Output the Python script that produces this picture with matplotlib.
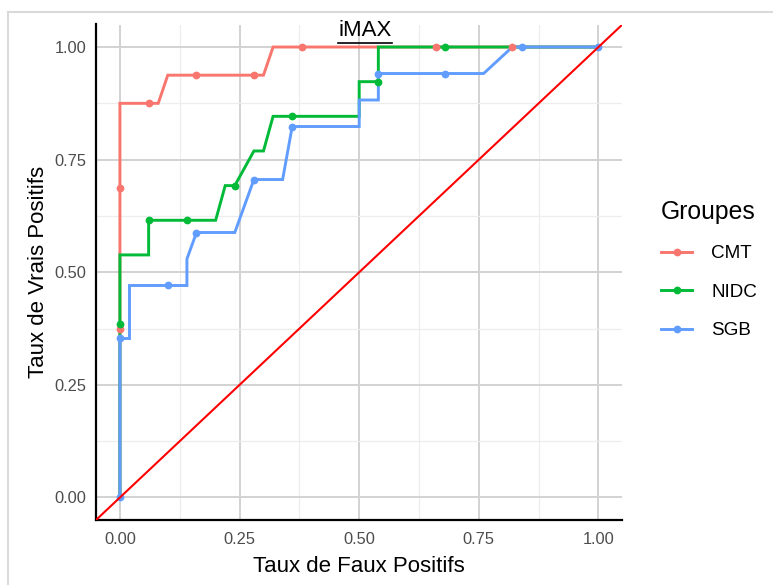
import matplotlib
matplotlib.use("Agg")
import matplotlib.pyplot as plt
from matplotlib.lines import Line2D
from matplotlib.ticker import MultipleLocator

plt.rcParams['font.family'] = ['Liberation Sans', 'DejaVu Sans']

# ROC curves (false positive rate, true positive rate)
groups = ["CMT", "NIDC", "SGB"]
colors = ["#F8766D", "#00BA38", "#619CFF"]

cmt_fpr = [0, 0, 0, 0, 0.06, 0.08, 0.10, 0.16, 0.28, 0.30, 0.32, 0.38, 0.66, 0.82, 1.0]
cmt_tpr = [0, 6/16, 11/16, 14/16, 14/16, 14/16, 15/16, 15/16, 15/16, 15/16, 1, 1, 1, 1, 1]
cmt_pt_fpr = [0, 0, 0.06, 0.16, 0.28, 0.38, 0.66, 0.82]
cmt_pt_tpr = [6/16, 11/16, 14/16, 15/16, 15/16, 1, 1, 1]

nidc_fpr = [0, 0, 0, 0.06, 0.06, 0.14, 0.20, 0.22, 0.24, 0.28, 0.30, 0.32, 0.36,
            0.50, 0.50, 0.54, 0.54, 0.68, 1.0]
nidc_tpr = [0, 5/13, 7/13, 7/13, 8/13, 8/13, 8/13, 9/13, 9/13, 10/13, 10/13, 11/13, 11/13,
            11/13, 12/13, 12/13, 1, 1, 1]
nidc_pt_fpr = [0, 0.06, 0.14, 0.24, 0.36, 0.54, 0.68]
nidc_pt_tpr = [5/13, 8/13, 8/13, 9/13, 11/13, 12/13, 1]

sgb_fpr = [0, 0, 0.02, 0.02, 0.10, 0.14, 0.14, 0.16, 0.24, 0.28, 0.34, 0.36, 0.50,
           0.50, 0.54, 0.54, 0.68, 0.76, 0.82, 0.84, 1.0]
sgb_tpr = [0, 6/17, 6/17, 8/17, 8/17, 8/17, 9/17, 10/17, 10/17, 12/17, 12/17, 14/17, 14/17,
           15/17, 15/17, 16/17, 16/17, 16/17, 1, 1, 1]
sgb_pt_fpr = [0, 0, 0.10, 0.16, 0.28, 0.36, 0.54, 0.68, 0.84, 1.0]
sgb_pt_tpr = [0, 6/17, 8/17, 10/17, 12/17, 14/17, 16/17, 16/17, 1, 1]

x_ticks = [0, 0.25, 0.5, 0.75, 1.0]
y_ticks = [0, 0.25, 0.5, 0.75, 1.0]
tick_labels = ["0.00", "0.25", "0.50", "0.75", "1.00"]

series = [
    (cmt_fpr, cmt_tpr, cmt_pt_fpr, cmt_pt_tpr),
    (nidc_fpr, nidc_tpr, nidc_pt_fpr, nidc_pt_tpr),
    (sgb_fpr, sgb_tpr, sgb_pt_fpr, sgb_pt_tpr),
]

fig = plt.figure(figsize=(7.73, 5.85), dpi=100)
ax = fig.add_axes([96 / 773, 1 - 520 / 585, (622.4 - 96) / 773, (520 - 24.5) / 585])

for (fx, fy, px, py), col in zip(series, colors):
    ax.plot(fx, fy, color=col, lw=2.1, solid_joinstyle="miter", zorder=3)
    ax.plot(px, py, "o", color=col, ms=5.6, mew=0, zorder=4)

ax.axline((0, 0), slope=1, color="#FF0000", lw=1.5, zorder=5)

ax.set_xlim(-0.05, 1.05)
ax.set_ylim(-0.05, 1.05)
ax.set_xticks(x_ticks)
ax.set_xticklabels(tick_labels)
ax.set_yticks(y_ticks)
ax.set_yticklabels(tick_labels)
ax.xaxis.set_minor_locator(MultipleLocator(0.125))
ax.yaxis.set_minor_locator(MultipleLocator(0.125))
ax.grid(which="major", color="#D2D2D2", lw=1.4, zorder=0)
ax.grid(which="minor", color="#EDEDED", lw=0.9, zorder=0)
ax.set_axisbelow(True)
ax.tick_params(which="both", length=0)
ax.tick_params(axis="x", labelsize=11.8, labelcolor="#4D4D4D", pad=9)
ax.tick_params(axis="y", labelsize=11.8, labelcolor="#4D4D4D", pad=7)

for s in ["top", "right"]:
    ax.spines[s].set_visible(False)
for s in ["left", "bottom"]:
    ax.spines[s].set_color("black")
    ax.spines[s].set_linewidth(1.6)

ax.set_xlabel("Taux de Faux Positifs", fontsize=16, labelpad=6)
ax.set_ylabel("Taux de Vrais Positifs", fontsize=16, labelpad=4)

# underlined title
title = fig.text(365 / 773, 1 - 31 / 585, "iMAX", fontsize=16, ha="center", va="center")
fig.canvas.draw()
bb = title.get_window_extent(fig.canvas.get_renderer())
uy = bb.y0 - 1
fig.add_artist(Line2D([bb.x0 / 773, bb.x1 / 773], [uy / 585, uy / 585],
                      transform=fig.transFigure, color="black", lw=1.2))

handles = [Line2D([], [], color=c, lw=2.1, marker="o", ms=5.6, mew=0) for c in colors]
leg = fig.legend(handles, groups, loc="upper left", bbox_to_anchor=(661 / 773, 1 - 200 / 585),
                 frameon=False, fontsize=13.6, title="Groupes", title_fontsize=17.8,
                 handlelength=1.65, handletextpad=1.0, labelspacing=1.12,
                 borderpad=0, borderaxespad=0, alignment="left")

# light outer frame
fig.add_artist(Line2D([8 / 773, 1], [1 - 12 / 585, 1 - 12 / 585], transform=fig.transFigure,
                      color="#DADADA", lw=1.5))
fig.add_artist(Line2D([8 / 773, 8 / 773], [0, 1 - 12 / 585], transform=fig.transFigure,
                      color="#DADADA", lw=1.5))

fig.savefig("out.png", dpi=100)
